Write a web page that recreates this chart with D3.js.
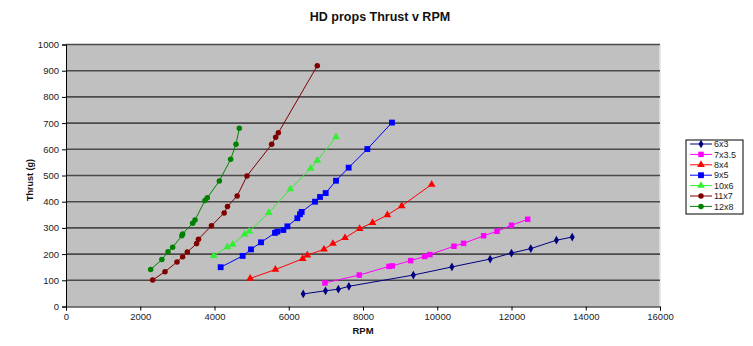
<!DOCTYPE html>
<html>
<head>
<meta charset="utf-8">
<script src="https://cdn.jsdelivr.net/npm/d3@7/dist/d3.min.js"></script>
<style>
  body { margin: 0; background: #fff; }
  svg { display: block; font-family: "Liberation Sans", Arial, sans-serif; }
</style>
</head>
<body>
<svg id="chart" width="753" height="346"></svg>
<script>
// Propeller thrust (g) measured against RPM, one pair of arrays per prop size
const seriesNames = ["6x3", "7x3.5", "8x4", "9x5", "10x6", "11x7", "12x8"];

const rpm6x3    = [6390, 6990, 7336, 7620, 9356, 10395, 11425, 12000, 12520, 13210, 13635];
const thrust6x3 = [48, 60, 66, 77, 120, 151, 181, 204, 221, 253, 265];

const rpm7x35    = [6976, 7900, 8700, 8790, 9284, 9660, 9800, 10450, 10710, 11250, 11610, 12000, 12436];
const thrust7x35 = [90, 120, 153, 155, 175, 191, 198, 230, 241, 270, 287, 310, 333];

const rpm8x4    = [4960, 5640, 6375, 6500, 6949, 7190, 7515, 7910, 8257, 8656, 9042, 9850];
const thrust8x4 = [107, 141, 182, 196, 218, 240, 262, 297, 320, 349, 384, 466];

const rpm9x5    = [4166, 4759, 4983, 5253, 5630, 5694, 5855, 5963, 6231, 6303, 6348, 6707, 6842, 6995, 7273, 7614, 8117, 8780];
const thrust9x5 = [150, 193, 218, 245, 281, 286, 292, 306, 337, 352, 361, 400, 418, 433, 480, 530, 601, 702];

const rpm10x6    = [3980, 4346, 4490, 4810, 4938, 5460, 6040, 6590, 6769, 7273];
const thrust10x6 = [194, 227, 237, 276, 287, 358, 448, 527, 557, 647];

const rpm11x7    = [2334, 2667, 2990, 3142, 3268, 3519, 3568, 3918, 4260, 4350, 4610, 4875, 5540, 5648, 5720, 6769];
const thrust11x7 = [101, 133, 170, 190, 208, 240, 257, 308, 357, 382, 422, 498, 619, 646, 663, 919];

const rpm12x8    = [2281, 2582, 2748, 2873, 3120, 3142, 3412, 3475, 3744, 3806, 4130, 4435, 4579, 4668];
const thrust12x8 = [141, 179, 209, 226, 270, 277, 318, 330, 405, 415, 479, 562, 619, 680];

const xTicks = [0, 2000, 4000, 6000, 8000, 10000, 12000, 14000, 16000];
const yTicks = [0, 100, 200, 300, 400, 500, 600, 700, 800, 900, 1000];

const seriesRpm    = [rpm6x3, rpm7x35, rpm8x4, rpm9x5, rpm10x6, rpm11x7, rpm12x8];
const seriesThrust = [thrust6x3, thrust7x35, thrust8x4, thrust9x5, thrust10x6, thrust11x7, thrust12x8];

// Line/marker styling per series
const colors  = ["#000080", "#ff00ff", "#ff0000", "#0000ff", "#33ee33", "#800000", "#008000"];
const symbols = [d3.symbolDiamond, d3.symbolSquare, d3.symbolTriangle, d3.symbolSquare,
                 d3.symbolTriangle, d3.symbolCircle, d3.symbolCircle];
const symSize = [22, 30, 26, 34, 26, 24, 24];

const svg = d3.select("#chart");
const plot = { left: 66, right: 660, top: 44.5, bottom: 306.5 };

const x = d3.scaleLinear().domain([0, 16000]).range([plot.left, plot.right]);
const y = d3.scaleLinear().domain([0, 1000]).range([plot.bottom, plot.top]);

// Plot background
svg.append("rect")
  .attr("x", plot.left).attr("y", plot.top)
  .attr("width", plot.right - plot.left).attr("height", plot.bottom - plot.top)
  .attr("fill", "#c0c0c0");
svg.append("line")
  .attr("x1", plot.right).attr("x2", plot.right)
  .attr("y1", plot.top).attr("y2", plot.bottom)
  .attr("stroke", "#e4e4e4").attr("stroke-width", 1.5);

// Horizontal gridlines
svg.append("g").selectAll("line")
  .data(yTicks.filter(d => d > 0))
  .join("line")
  .attr("x1", plot.left).attr("x2", plot.right)
  .attr("y1", d => y(d)).attr("y2", d => y(d))
  .attr("stroke", "#4a4a4a").attr("stroke-width", 1.6);

// Axes
const yAxis = svg.append("g")
  .attr("transform", `translate(${plot.left},0)`)
  .call(d3.axisLeft(y).tickValues(yTicks).tickSize(4).tickPadding(3).tickFormat(d3.format("d")));
const xAxis = svg.append("g")
  .attr("transform", `translate(0,${plot.bottom})`)
  .call(d3.axisBottom(x).tickValues(xTicks).tickSize(4).tickPadding(3).tickFormat(d3.format("d")));
[xAxis, yAxis].forEach(g => {
  g.select(".domain").attr("stroke", "#000");
  g.selectAll(".tick line").attr("stroke", "#000");
  g.selectAll(".tick text").attr("font-size", 9.5).attr("fill", "#222")
    .attr("font-family", "Liberation Sans, Arial, sans-serif");
});

// Series lines and markers
const line = d3.line().x(d => x(d[0])).y(d => y(d[1]));
seriesNames.forEach((name, i) => {
  const pts = seriesRpm[i].map((r, k) => [r, seriesThrust[i][k]]);
  const g = svg.append("g");
  g.append("path").datum(pts)
    .attr("d", line).attr("fill", "none")
    .attr("stroke", colors[i]).attr("stroke-width", 1);
  g.selectAll("path.m").data(pts).join("path")
    .attr("class", "m")
    .attr("transform", d => `translate(${x(d[0])},${y(d[1])})`)
    .attr("d", d3.symbol(symbols[i], symSize[i]))
    .attr("fill", colors[i]);
});

// Titles
svg.append("text")
  .attr("x", 380).attr("y", 21)
  .attr("text-anchor", "middle").attr("font-size", 12.5).attr("font-weight", "bold")
  .attr("fill", "#111")
  .text("HD props Thrust v RPM");
svg.append("text")
  .attr("x", (plot.left + plot.right) / 2).attr("y", 334)
  .attr("text-anchor", "middle").attr("font-size", 9.5).attr("font-weight", "bold")
  .attr("fill", "#111")
  .text("RPM");
svg.append("text")
  .attr("transform", `translate(33,180) rotate(-90)`)
  .attr("text-anchor", "middle").attr("font-size", 9).attr("font-weight", "bold")
  .attr("fill", "#111")
  .text("Thrust (g)");

// Legend
const legend = svg.append("g").attr("transform", "translate(686,140)");
legend.append("rect")
  .attr("width", 57).attr("height", 74)
  .attr("fill", "#fff").attr("stroke", "#000").attr("stroke-width", 1);
seriesNames.forEach((name, i) => {
  const ly = 4 + i * 10.4;
  legend.append("line")
    .attr("x1", 4).attr("x2", 26).attr("y1", ly).attr("y2", ly)
    .attr("stroke", colors[i]).attr("stroke-width", 1);
  legend.append("path")
    .attr("transform", `translate(15,${ly})`)
    .attr("d", d3.symbol(symbols[i], symSize[i]))
    .attr("fill", colors[i]);
  legend.append("text")
    .attr("x", 28).attr("y", ly + 3.2)
    .attr("font-size", 9).attr("fill", "#222")
    .text(name);
});
</script>
</body>
</html>
